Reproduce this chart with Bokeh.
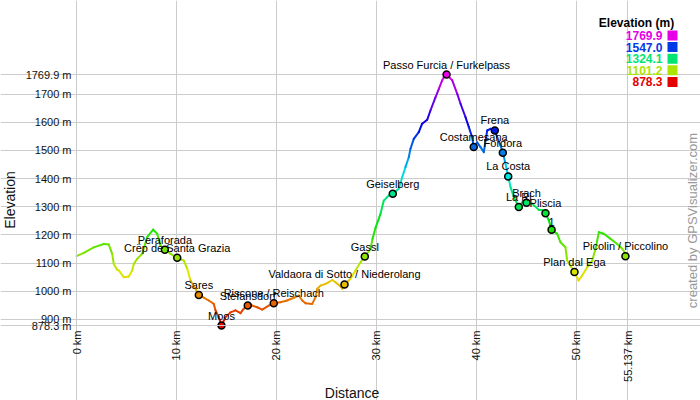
import colorsys
import numpy as np
from bokeh.plotting import figure
from bokeh.core.properties import value
from bokeh.models import (Range1d, FixedTicker, LabelSet, ColumnDataSource,
                          BoxAnnotation, CustomJSTickFormatter)
from bokeh.embed import file_html
from bokeh.resources import INLINE

# ---------------- data ----------------
dist_km = [0.0, 0.73, 1.73, 2.73, 3.23, 3.57, 3.73, 4.07, 4.23, 4.73,
           5.23, 5.57, 5.73, 6.07, 6.57, 7.07, 7.67, 8.08, 8.41, 8.84,
           9.41, 10.08, 10.74, 11.08, 11.41, 12.24, 12.74, 13.24, 13.74, 13.91,
           14.24, 14.51, 14.91, 15.41, 15.91, 16.41, 16.74, 17.14, 17.58, 18.08,
           18.58, 19.24, 19.74, 20.41, 21.08, 21.74, 22.25, 22.59, 22.92, 23.59,
           23.92, 24.09, 24.42, 24.92, 25.25, 25.59, 25.92, 26.42, 26.59, 26.82,
           27.42, 27.92, 28.42, 28.85, 29.42, 29.62, 29.92, 30.42, 30.75, 31.25,
           31.65, 32.25, 32.59, 32.92, 33.25, 33.42, 33.75, 34.25, 34.59, 35.09,
           35.42, 35.92, 36.26, 36.59, 36.76, 37.03, 37.60, 38.10, 38.43, 38.93,
           39.26, 39.59, 39.75, 40.09, 40.43, 40.76, 40.93, 41.10, 41.43, 41.86,
           42.10, 42.43, 42.66, 42.93, 43.20, 43.43, 43.76, 44.26, 44.60, 45.03,
           45.60, 46.26, 46.60, 46.93, 47.27, 47.54, 48.10, 48.43, 48.93, 49.10,
           49.83, 50.25, 50.60, 51.10, 51.61, 51.94, 52.27, 52.77, 53.44, 54.11,
           54.61, 55.137]
elev_m = [1125, 1136, 1156, 1168, 1166, 1133, 1097, 1076, 1074, 1050,
          1052, 1074, 1097, 1115, 1133, 1192, 1219, 1204, 1162, 1147,
          1133, 1119, 1109, 1080, 1038, 987, 977, 967, 955, 932,
          908, 878.3, 908, 925, 932, 922, 938, 949, 949, 943,
          935, 949, 957, 961, 967, 977, 985, 967, 957, 955,
          979, 1009, 1020, 1026, 1032, 1040, 1032, 1017, 1009, 1024,
          1044, 1074, 1103, 1123, 1150, 1186, 1225, 1275, 1322, 1340,
          1346, 1364, 1405, 1441, 1476, 1506, 1541, 1565, 1595, 1609,
          1642, 1689, 1719, 1749, 1760, 1769.9, 1749, 1701, 1666, 1618,
          1583, 1547, 1512, 1529, 1512, 1494, 1535, 1571, 1577, 1571,
          1547, 1518, 1492, 1453, 1408, 1370, 1334, 1299, 1316, 1314,
          1311, 1289, 1289, 1277, 1251, 1218, 1204, 1174, 1156, 1109,
          1068, 1038, 1056, 1085, 1109, 1151, 1210, 1204, 1186, 1168,
          1151, 1124]
assert len(dist_km) == len(elev_m)

wp_names = ["Peraforada", "Crëp de Santa Grazia", "Sares", "Moos", "Stefansdorf",
            "Riscone / Reischach", "Valdaora di Sotto / Niederolang", "Gassl",
            "Geiselberg", "Passo Furcia / Furkelpass", "Costamesana", "Frena",
            "Fordora", "La Costa", "La Ri", "Brach", "Pliscia", "1",
            "Plan dal Ega", "Picolin / Piccolino"]
wp_km = [8.84, 10.08, 12.24, 14.51, 17.14, 19.74, 26.82, 28.85, 31.65, 37.03,
         39.75, 41.86, 42.66, 43.20, 44.26, 45.03, 46.93, 47.54, 49.83, 54.93]
wp_elev = [1147, 1119, 987, 878.3, 949, 957, 1024, 1123, 1346, 1769.9,
           1512, 1571, 1492, 1408, 1299, 1314, 1277, 1218, 1068, 1124]

x_ticks = [0, 10, 20, 30, 40, 50, 55.137]
y_ticks = [878.3, 900, 1000, 1100, 1200, 1300, 1400, 1500, 1600, 1700, 1769.9]
legend_title = "Elevation (m)"
legend_values = [1769.9, 1547.0, 1324.1, 1101.2, 878.3]
credit_text = "created by GPSVisualizer.com"

XMIN, XMAX = 0.0, 55.137
EMIN, EMAX = 878.3, 1769.9
FONT = "Liberation Sans"
GRID = "#cccccc"


def elev_color(e):
    h = (e - EMIN) / (EMAX - EMIN) * 300.0 / 360.0
    r, g, b = colorsys.hsv_to_rgb(h, 1.0, 0.9)
    return "#%02x%02x%02x" % (int(r * 255), int(g * 255), int(b * 255))


# ---------------- layout: frame covers the whole canvas ----------------
W, H = 700, 400
OFFX, OFFY = 0, 0          # canvas origin in picture pixels
PX_L, PX_R = 76, 627       # picture x of the plot area's left / right edge
PY_T, PY_B = 74, 325       # picture y of the plot area's top / bottom edge
kx = (PX_R - PX_L) / (XMAX - XMIN)
ky = (PY_B - PY_T) / (EMAX - EMIN)
XS = XMIN - (PX_L - OFFX) / kx
XE = XMAX + (OFFX + W - PX_R) / kx
YE = EMAX + (PY_T - OFFY) / ky
YS = EMIN - (OFFY + H - PY_B) / ky

p = figure(width=W, height=H, x_range=Range1d(XS, XE), y_range=Range1d(YS, YE),
           output_backend="svg", toolbar_location=None,
           min_border_left=0, min_border_right=0, min_border_top=0,
           min_border_bottom=0)
p.background_fill_color = "white"
p.border_fill_color = "white"
p.outline_line_color = None

# grid limited to the plot area
p.xgrid.ticker = FixedTicker(ticks=x_ticks)
p.ygrid.ticker = FixedTicker(ticks=y_ticks)
p.xgrid.bounds = (EMIN, EMAX)
p.ygrid.bounds = (XMIN, XMAX)
for g in (p.xgrid, p.ygrid):
    g.grid_line_color = GRID
    g.grid_line_width = 1

# axes pinned to the plot area's edges
p.xaxis.fixed_location = EMIN
p.yaxis.fixed_location = XMIN
p.xaxis.bounds = (XMIN, XMAX)
p.yaxis.bounds = (EMIN, EMAX)
p.xaxis.ticker = FixedTicker(ticks=x_ticks)
p.yaxis.ticker = FixedTicker(ticks=y_ticks)
p.xaxis.formatter = CustomJSTickFormatter(code="return tick + ' km'")
p.yaxis.formatter = CustomJSTickFormatter(
    code="return (Number.isInteger(tick) ? tick.toString() : tick.toFixed(1)) + ' m'")
p.xaxis.major_label_orientation = np.pi / 2
p.xaxis.axis_label = "Distance"
p.yaxis.axis_label = "Elevation"
for ax in (p.xaxis, p.yaxis):
    ax.axis_line_color = GRID
    ax.major_tick_line_color = GRID
    ax.minor_tick_line_color = None
    ax.major_tick_in = 0
    ax.major_label_text_font = FONT
    ax.major_label_text_font_size = "11px"
    ax.major_label_text_color = "#111111"
    ax.axis_label_text_font = FONT
    ax.axis_label_text_font_size = "14px"
    ax.axis_label_text_font_style = "normal"
    ax.axis_label_text_color = "#111111"
p.yaxis.major_tick_out = 4
p.yaxis.major_label_standoff = 1
p.yaxis.axis_label_standoff = 5
p.xaxis.major_tick_out = 0
p.xaxis.major_label_standoff = 5
p.xaxis.axis_label_standoff = 0

# profile line coloured by elevation
x0 = dist_km[:-1]
x1 = dist_km[1:]
y0 = elev_m[:-1]
y1 = elev_m[1:]
seg_colors = [elev_color((a + b) / 2.0) for a, b in zip(y0, y1)]
seg_src = ColumnDataSource(dict(x0=x0, x1=x1, y0=y0, y1=y1, c=seg_colors))
p.segment(x0="x0", y0="y0", x1="x1", y1="y1", color="c", line_width=2,
          line_cap="round", source=seg_src)

# waypoints
wp_src = ColumnDataSource(dict(x=wp_km, y=wp_elev, name=wp_names,
                               c=[elev_color(e) for e in wp_elev]))
p.scatter(x="x", y="y", size=7, fill_color="c", line_color="black",
          line_width=1.5, source=wp_src)
p.add_layout(LabelSet(x="x", y="y", text="name", source=wp_src,
                      text_align="center", text_baseline="bottom", y_offset=4,
                      text_font=value(FONT), text_font_size="11px",
                      text_color="black"))


# ---- colour legend and credit (screen units, canvas = frame) ----
def sx(img_x):
    return img_x - OFFX


def sy(img_y):
    return OFFY + H - img_y


row_y = [35 + i * 11.6 for i in range(len(legend_values))]
leg_src = ColumnDataSource(dict(
    x=[sx(662)] * len(legend_values),
    y=[sy(v) for v in row_y],
    t=["%.1f" % v for v in legend_values],
    c=[elev_color(v) for v in legend_values]))
p.add_layout(LabelSet(x="x", y="y", text="t", source=leg_src,
                      x_units="screen", y_units="screen",
                      text_align="right", text_baseline="middle",
                      text_font=value(FONT), text_font_size="12px",
                      text_font_style="bold", text_color="c"))
title_src = ColumnDataSource(dict(x=[sx(636)], y=[sy(22)], t=[legend_title]))
p.add_layout(LabelSet(x="x", y="y", text="t", source=title_src,
                      x_units="screen", y_units="screen",
                      text_align="center", text_baseline="middle",
                      text_font=value(FONT), text_font_size="12px",
                      text_font_style="bold", text_color="black"))
for v, yy in zip(legend_values, row_y):
    p.add_layout(BoxAnnotation(left=sx(667), right=sx(677), top=sy(yy - 5),
                               bottom=sy(yy + 5), left_units="screen",
                               right_units="screen", top_units="screen",
                               bottom_units="screen", fill_color=elev_color(v),
                               fill_alpha=1.0, line_color=None))

credit_src = ColumnDataSource(dict(x=[sx(692)], y=[sy(220)], t=[credit_text]))
p.add_layout(LabelSet(x="x", y="y", text="t", source=credit_src,
                      x_units="screen", y_units="screen", angle=np.pi / 2,
                      text_align="center", text_baseline="middle",
                      text_font=value(FONT), text_font_size="13px",
                      text_color="#999999"))

open("out.html", "w").write(file_html(p, INLINE))
